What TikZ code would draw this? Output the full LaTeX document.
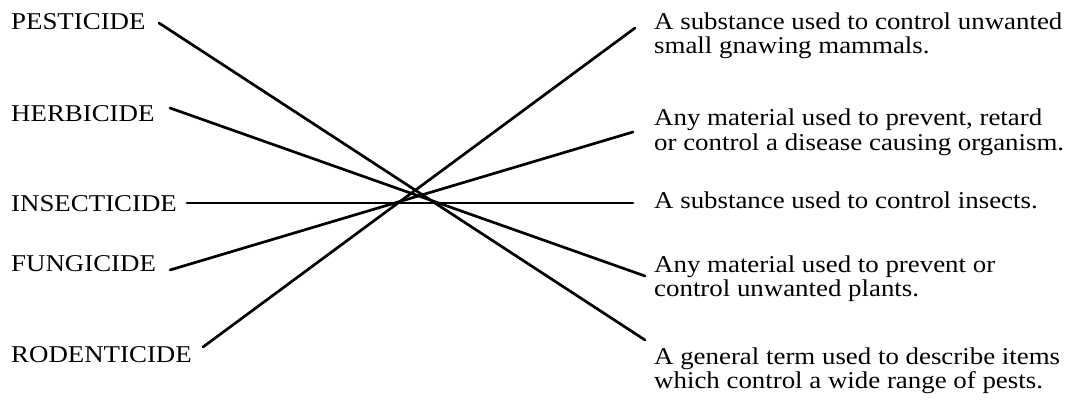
\documentclass[tikz,border=0pt]{standalone}
\usepackage{fontspec}
\setmainfont{Liberation Serif}[FakeStretch=1.115]
\begin{document}
\begin{tikzpicture}[x=1pt,y=-1pt,
  lab/.style={anchor=base west,inner sep=0pt,font=\fontsize{24.1}{26}\selectfont},
  conn/.style={line width=2.7pt,line cap=round}]
\useasboundingbox (0,0) rectangle (1069,402);
% left terms
\node[lab] (pest) at (11,29) {PESTICIDE};
\node[lab] (herb) at (11,121) {HERBICIDE};
\node[lab] (inse) at (11,211) {INSECTICIDE};
\node[lab] (fung) at (11,271) {FUNGICIDE};
\node[lab] (rode) at (11,362) {RODENTICIDE};
% right definitions
\node[lab] (d1) at (654,29) {A substance used to control unwanted};
\node[lab] (d1b) at (654,53.5) {small gnawing mammals.};
\node[lab] (d2) at (654,125.5) {Any material used to prevent, retard};
\node[lab] (d2b) at (654,150) {or control a disease causing organism.};
\node[lab] (d3) at (654,208) {A substance used to control insects.};
\node[lab] (d4) at (654,272) {Any material used to prevent or};
\node[lab] (d4b) at (654,296.5) {control unwanted plants.};
\node[lab] (d5) at (654,364) {A general term used to describe items};
\node[lab] (d5b) at (654,388.5) {which control a wide range of pests.};
% connector ends
\coordinate (pestE) at (159,23);
\coordinate (herbE) at (170,108);
\coordinate (inseE) at (187,203);
\coordinate (fungE) at (170,270);
\coordinate (rodeE) at (203,347);
\coordinate (d1W) at (635,28);
\coordinate (d2W) at (633,132);
\coordinate (d3W) at (633,203);
\coordinate (d4W) at (645,276);
\coordinate (d5W) at (645,340);
% connectors
\draw[conn] (pestE) -- (d5W);
\draw[conn] (herbE) -- (d4W);
\draw[conn] (inseE) -- (d3W);
\draw[conn] (fungE) -- (d2W);
\draw[conn] (rodeE) -- (d1W);
\end{tikzpicture}
\end{document}
